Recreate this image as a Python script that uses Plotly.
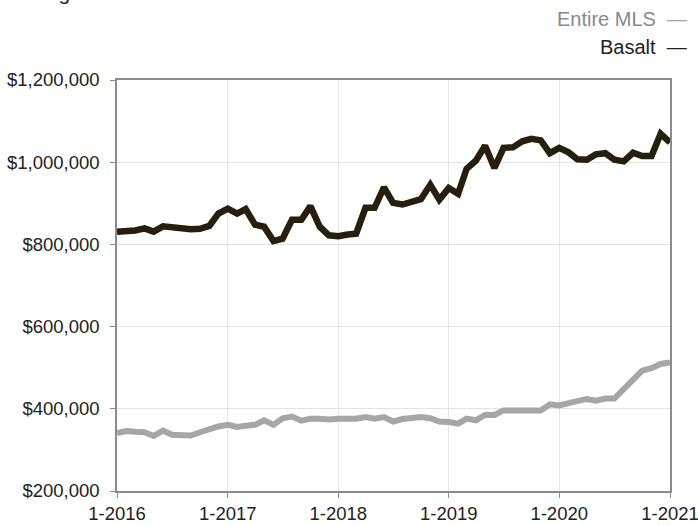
import plotly.graph_objects as go
import pandas as pd

months = pd.date_range("2016-01-01", "2021-01-01", freq="MS")

basalt = [831000, 831000, 834000, 839000, 831000, 844000, 842000, 836000, 837000, 838000,
          845000, 875000, 887000, 875000, 886000, 848000, 843000, 808000, 814000, 860000,
          860000, 893000, 843000, 822000, 820000, 824000, 826000, 889000, 889000, 939000,
          901000, 897000, 905000, 910000, 945000, 909000, 937000, 923000, 984000, 1004000,
          1040000, 986000, 1035000, 1036000, 1051000, 1057000, 1053000, 1022000, 1035000, 1024000,
          1007000, 1006000, 1019000, 1022000, 1006000, 1002000, 1023000, 1015000, 1015000, 1069000,
          1048000]

entire_mls = [341000, 346000, 344000, 343000, 334000, 347000, 337000, 335000, 335000, 343000,
              352000, 357000, 361000, 356000, 359000, 361000, 372000, 361000, 377000, 381000,
              371000, 376000, 376000, 374000, 376000, 376000, 376000, 380000, 376000, 380000,
              369000, 375000, 377000, 380000, 377000, 369000, 368000, 364000, 376000, 372000,
              385000, 385000, 396000, 396000, 396000, 396000, 396000, 411000, 408000, 414000,
              420000, 424000, 420000, 425000, 425000, 448000, 471000, 493000, 499000, 509000,
              513000]

x_tick_vals = ["2016-01-01", "2017-01-01", "2018-01-01", "2019-01-01", "2020-01-01", "2021-01-01"]
x_tick_text = ["1-2016", "1-2017", "1-2018", "1-2019", "1-2020", "1-2021"]
y_tick_vals = [200000, 400000, 600000, 800000, 1000000, 1200000]
y_tick_text = ["$200,000", "$400,000", "$600,000", "$800,000", "$1,000,000", "$1,200,000"]

series_names = ["Entire MLS", "Basalt"]
series_colors = ["#a6a6a6", "#261f0e"]
FONT = "Liberation Sans, Arial, Helvetica, sans-serif"

fig = go.Figure()
fig.add_trace(go.Scatter(x=months, y=entire_mls, mode="lines", name=series_names[0],
                         line=dict(color=series_colors[0], width=6), showlegend=False))
fig.add_trace(go.Scatter(x=months, y=basalt, mode="lines", name=series_names[1],
                         line=dict(color=series_colors[1], width=6.5), showlegend=False))

axis_common = dict(showline=True, linecolor="#8c8c8c", linewidth=1.5, mirror=True,
                   showgrid=True, gridcolor="#e3e3e3", gridwidth=1.2,
                   ticks="outside", ticklen=5, tickcolor="#8c8c8c", tickwidth=1.2,
                   zeroline=False, automargin=False, ticklabeloverflow="allow")

fig.update_xaxes(range=["2016-01-01", "2021-01-01"], tickvals=x_tick_vals, ticktext=x_tick_text,
                 tickfont=dict(family=FONT, size=18.5, color="#222222"), **axis_common)
fig.update_yaxes(range=[200000, 1200000], tickvals=y_tick_vals, ticktext=y_tick_text,
                 tickfont=dict(family=FONT, size=18.5, color="#222222"), ticklabelstandoff=7,
                 **axis_common)

fig.add_annotation(text="Rolling 12-Month Calculation", xref="paper", yref="paper",
                   x=-0.204, y=1 + (80 + 7) / 411, xanchor="left", yanchor="middle", showarrow=False,
                   font=dict(family=FONT, size=21, color="#222222"))
fig.add_annotation(text="Entire MLS  <span style='color:#a6a6a6'>—</span>", xref="paper", yref="paper",
                   x=1.034, y=1 + (80 - 19) / 411, xanchor="right", yanchor="middle", showarrow=False,
                   font=dict(family=FONT, size=20, color="#8a8a8a"))
fig.add_annotation(text="Basalt  <span style='color:#261f0e'>—</span>", xref="paper", yref="paper",
                   x=1.034, y=1 + (80 - 47) / 411, xanchor="right", yanchor="middle", showarrow=False,
                   font=dict(family=FONT, size=20, color="#222222"))

fig.update_layout(width=698, height=525, margin=dict(l=117, r=28, t=80, b=34),
                  paper_bgcolor="white", plot_bgcolor="white", font=dict(family=FONT))

fig.write_html("out.html", config={"displayModeBar": False},
               post_script="document.body.style.margin='0px';")
